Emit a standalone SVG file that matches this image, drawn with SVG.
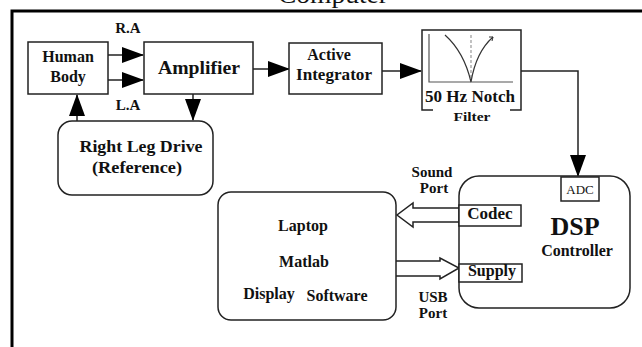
<svg xmlns="http://www.w3.org/2000/svg" width="642" height="347" viewBox="0 0 642 347">
<style>
.box{fill:#fff;stroke:#222;stroke-width:1.5}
.t{font-family:"Liberation Serif","Times New Roman",serif;font-weight:bold;fill:#111;text-anchor:middle}
.ln{fill:none;stroke:#222;stroke-width:1.5}
.frame{fill:none;stroke:#000;stroke-width:3}
.hol{fill:#fff;stroke:#222;stroke-width:1.5;stroke-linejoin:miter}
</style>
<defs>
<marker id="ah" markerUnits="userSpaceOnUse" markerWidth="22" markerHeight="16" refX="21" refY="8" orient="auto">
<path d="M0,0 L22,8 L0,16 z" fill="#000"/>
</marker>
</defs>
<rect width="642" height="347" fill="#fff"/>
<!-- frame -->
<g id="frame">
<path class="frame" d="M12,347 L12,11 L642,11"/>
<text x="333" y="3" class="t" style="font-weight:normal;font-size:25px" textLength="110" lengthAdjust="spacingAndGlyphs">Computer</text>
</g>
<!-- connectors -->
<g id="connectors">
<line class="ln" x1="108" y1="55" x2="143" y2="55" marker-end="url(#ah)"/>
<line class="ln" x1="108" y1="80" x2="143" y2="80" marker-end="url(#ah)"/>
<line class="ln" x1="253" y1="69" x2="289" y2="69" marker-end="url(#ah)"/>
<line class="ln" x1="382" y1="71" x2="421" y2="71" marker-end="url(#ah)"/>
<polyline class="ln" points="521,71 578,71 578,176" marker-end="url(#ah)"/>
<line class="ln" x1="77" y1="121" x2="77" y2="95" marker-end="url(#ah)"/>
<line class="ln" x1="193" y1="94" x2="193" y2="120" marker-end="url(#ah)"/>
<path class="hol" d="M459,208 L413,208 L413,203 L397,215 L413,227 L413,222 L459,222"/>
<path class="hol" d="M396,261 L440,261 L440,258 L459,268 L440,279 L440,276 L396,276"/>
<text x="432" y="177" class="t" style="font-size:15px">Sound</text>
<text x="434" y="193" class="t" style="font-size:15px">Port</text>
<text x="433" y="302" class="t" style="font-size:15px">USB</text>
<text x="433" y="318" class="t" style="font-size:15px">Port</text>
<text x="128" y="33" class="t" style="font-size:15px">R.A</text>
<text x="128" y="110" class="t" style="font-size:15px">L.A</text>
</g>
<g id="human-body">
<rect class="box" x="28" y="42" width="80" height="52"/>
<text x="68" y="62" class="t" style="font-size:16px">Human</text>
<text x="68" y="82" class="t" style="font-size:16px">Body</text>
</g>
<g id="amplifier">
<rect class="box" x="144" y="42" width="109" height="52"/>
<text x="199" y="74" class="t" style="font-size:18px" textLength="82" lengthAdjust="spacingAndGlyphs">Amplifier</text>
</g>
<g id="active-integrator">
<rect class="box" x="289" y="43" width="93" height="51"/>
<text x="329" y="60" class="t" style="font-size:16px">Active</text>
<text x="334" y="80" class="t" style="font-size:16px" textLength="76" lengthAdjust="spacingAndGlyphs">Integrator</text>
</g>
<g id="notch-filter">
<path class="ln" d="M433,110 L422,110 L422,30 L521,30 L521,110 L510,110"/>
<path d="M429,34 L429,82 L513,82" fill="none" stroke="#555" stroke-width="1.2"/>
<line x1="471" y1="35" x2="471" y2="80" stroke="#999" stroke-width="1.2" stroke-dasharray="3,2"/>
<path d="M445,35 Q464,52 471,82 Q476,52 493,37" fill="none" stroke="#333" stroke-width="1.2"/>
<path d="M489,37 L493,37 L492,41" fill="none" stroke="#333" stroke-width="1"/>
<text x="470" y="102" class="t" style="font-size:16px" textLength="90" lengthAdjust="spacingAndGlyphs">50 Hz Notch</text>
<text x="472" y="121" class="t" style="font-size:13px" textLength="37" lengthAdjust="spacingAndGlyphs">Filter</text>
</g>
<g id="right-leg-drive">
<rect class="box" x="58" y="121" width="155" height="74" rx="14"/>
<text x="141" y="152" class="t" style="font-size:17px" textLength="123" lengthAdjust="spacingAndGlyphs">Right Leg Drive</text>
<text x="137" y="173" class="t" style="font-size:17px" textLength="90" lengthAdjust="spacingAndGlyphs">(Reference)</text>
</g>
<g id="laptop">
<rect class="box" x="218" y="192" width="178" height="128" rx="13"/>
<text x="303" y="231" class="t" style="font-size:16px">Laptop</text>
<text x="304" y="267" class="t" style="font-size:16px">Matlab</text>
<text x="269" y="299" class="t" style="font-size:16px">Display</text>
<text x="337" y="301" class="t" style="font-size:16px">Software</text>
</g>
<g id="dsp-controller">
<rect class="box" x="459" y="176" width="171" height="132" rx="20"/>
<text x="575" y="235" class="t" style="font-size:26px">DSP</text>
<text x="577" y="256" class="t" style="font-size:16px">Controller</text>
</g>
<g id="adc">
<rect class="box" x="561" y="177" width="38" height="24"/>
<text x="580" y="194" class="t" style="font-weight:normal;font-size:13px">ADC</text>
</g>
<g id="codec">
<rect class="box" x="459" y="205" width="62" height="21"/>
<text x="490" y="219" class="t" style="font-size:17px">Codec</text>
</g>
<g id="supply">
<rect class="box" x="459" y="264" width="63" height="18"/>
<text x="492" y="276" class="t" style="font-size:16px">Supply</text>
</g>
</svg>
